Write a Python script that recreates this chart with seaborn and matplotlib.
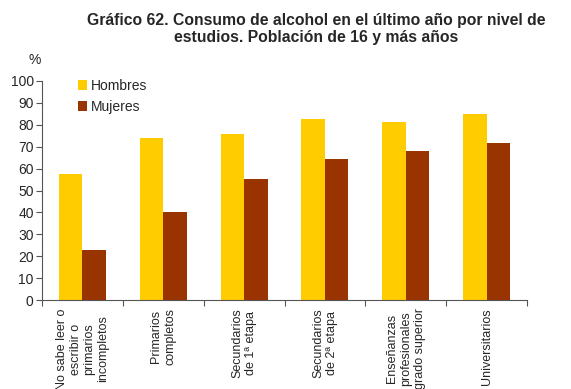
import matplotlib
matplotlib.use("Agg")
import matplotlib.pyplot as plt
import seaborn as sns
import pandas as pd
from matplotlib.patches import Patch

categorias = [
    "No sabe leer o\nescribir o\nprimarios\nincompletos",
    "Primarios\ncompletos",
    "Secundarios\nde 1ª etapa",
    "Secundarios\nde 2ª etapa",
    "Enseñanzas\nprofesionales\ngrado superior",
    "Universitarios",
]
hombres = [57.5, 74.0, 75.8, 82.6, 81.3, 84.9]
mujeres = [22.7, 40.2, 55.2, 64.3, 68.0, 71.6]
series = ["Hombres", "Mujeres"]
colores = ["#FFCC00", "#993300"]
yticks = [0, 10, 20, 30, 40, 50, 60, 70, 80, 90, 100]

df = pd.DataFrame({
    "cat": categorias * 2,
    "serie": [series[0]] * len(categorias) + [series[1]] * len(categorias),
    "valor": hombres + mujeres,
})

sns.set_style("ticks")
plt.rcParams["font.family"] = ["Liberation Sans", "DejaVu Sans"]

fig = plt.figure(figsize=(5.71, 3.89), dpi=100)
ax = fig.add_axes([42 / 571, 1 - 300 / 389, 485 / 571, 219 / 389])

sns.barplot(data=df, x="cat", y="valor", hue="serie", palette=colores,
            width=0.58, gap=0, saturation=1, linewidth=0, ax=ax, legend=False)

ax.set_xlim(-0.5, len(categorias) - 0.5)
ax.set_ylim(0, 100)
ax.set_yticks(yticks)
ax.set_xlabel("")
ax.set_ylabel("")
ax.tick_params(axis="y", labelsize=10, length=4, width=0.8, color="#555555", pad=2)
ax.tick_params(axis="x", which="major", length=0, labelsize=9, pad=6)
ax.set_xticks([i - 0.5 for i in range(len(categorias) + 1)], minor=True)
ax.tick_params(axis="x", which="minor", length=4, width=0.8, color="#555555")
for lbl in ax.get_xticklabels():
    lbl.set_rotation(90)
    lbl.set_ha("center")
    lbl.set_va("top")
    lbl.set_multialignment("center")

for s in ["top", "right"]:
    ax.spines[s].set_visible(False)
for s in ["left", "bottom"]:
    ax.spines[s].set_color("#555555")
    ax.spines[s].set_linewidth(0.8)

handles = [Patch(facecolor=c, edgecolor="none") for c in colores]
fig.legend(handles, series, loc="upper left", bbox_to_anchor=(78 / 571, 1 - 79 / 389),
           frameon=False, fontsize=10, handlelength=0.65, handleheight=0.65,
           handletextpad=0.25, labelspacing=0.5, borderaxespad=0, borderpad=0)

fig.text(35 / 571, 1 - 60 / 389, "%", fontsize=10, ha="center", va="center")
fig.text(316 / 571, 1 - 29 / 389,
         "Gráfico 62. Consumo de alcohol en el último año por nivel de\nestudios. Población de 16 y más años",
         fontsize=11.3, fontweight="bold", ha="center", va="center", linespacing=1.1)

fig.savefig("out.png", dpi=100)
